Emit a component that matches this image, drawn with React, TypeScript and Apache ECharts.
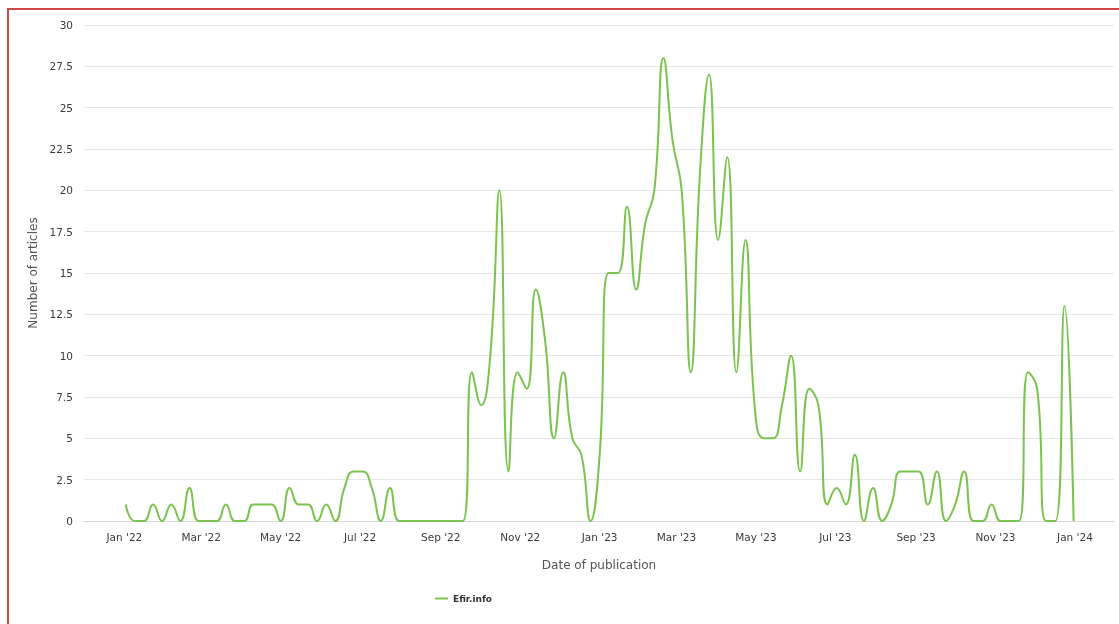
import React, { useEffect, useRef } from "react";
import * as echarts from "echarts";

// Weekly article counts (one value per week, first week starting 2022-01-02)
const firstWeek = "2022-01-02";
const articles = [
  1, 0, 0, 1, 0, 1, 0, 2, 0, 0,
  0, 1, 0, 0, 1, 1, 1, 0, 2, 1,
  1, 0, 1, 0, 2, 3, 3, 2, 0, 2,
  0, 0, 0, 0, 0, 0, 0, 0, 9, 7,
  10, 20, 3, 9, 8, 14, 11, 5, 9, 5,
  4, 0, 4, 15, 15, 19, 14, 18, 20, 28,
  23, 20, 9, 21, 27, 17, 22, 9, 17, 7,
  5, 5, 7, 10, 3, 8, 7, 1, 2, 1,
  4, 0, 2, 0, 1, 3, 3, 3, 1, 3,
  0, 1, 3, 0, 0, 1, 0, 0, 0, 9,
  8, 0, 0, 13, 0,
];
const seriesName = "Efir.info";
const xLabelDates = [
  "2022-01-01", "2022-03-01", "2022-05-01", "2022-07-01", "2022-09-01",
  "2022-11-01", "2023-01-01", "2023-03-01", "2023-05-01", "2023-07-01",
  "2023-09-01", "2023-11-01", "2024-01-01",
];
const monthNames = ["Jan", "Feb", "Mar", "Apr", "May", "Jun", "Jul", "Aug", "Sep", "Oct", "Nov", "Dec"];
const xMin = "2021-12-01";
const xMax = "2024-01-31";

const FONT = "DejaVu Sans";
const WEEK = 7 * 24 * 3600 * 1000;

export default function App() {
  const ref = useRef<HTMLDivElement>(null);
  useEffect(() => {
    const chart = echarts.init(ref.current!, null, { renderer: "svg" });
    const start = Date.parse(firstWeek);
    const data = articles.map((v, i) => [start + i * WEEK, v]);
    chart.setOption({
      animation: false,
      backgroundColor: "transparent",
      grid: { left: 84, right: 5, top: 25, bottom: 103 },
      legend: {
        data: [seriesName],
        left: 430,
        top: 589,
        icon: "rect",
        itemWidth: 13,
        itemHeight: 2,
        textStyle: { fontFamily: FONT, fontWeight: "bold", fontSize: 9, color: "#333" },
      },
      xAxis: {
        type: "value",
        min: Date.parse(xMin),
        max: Date.parse(xMax),
        name: "Date of publication",
        nameLocation: "middle",
        nameGap: 38,
        nameTextStyle: { fontFamily: FONT, fontSize: 12, color: "#555" },
        axisLine: { show: true, lineStyle: { color: "#d6d6d6", width: 1 } },
        axisTick: { show: false },
        splitLine: { show: false },
        axisLabel: {
          customValues: xLabelDates.map((d) => Date.parse(d)),
          formatter: (v: number) => {
            const d = new Date(v);
            return monthNames[d.getUTCMonth()] + " '" + String(d.getUTCFullYear()).slice(2);
          },
          fontFamily: FONT,
          fontSize: 10.5,
          color: "#3a3a3a",
          margin: 10,
        },
      },
      yAxis: {
        type: "value",
        min: 0,
        max: 30,
        interval: 2.5,
        name: "Number of articles",
        nameLocation: "middle",
        nameGap: 45,
        nameTextStyle: { fontFamily: FONT, fontSize: 12, color: "#555" },
        axisLine: { show: false },
        axisTick: { show: false },
        axisLabel: { fontFamily: FONT, fontSize: 10.5, color: "#3a3a3a", margin: 11 },
        splitLine: { show: true, lineStyle: { color: "#e6e6e6", width: 1 } },
      },
      series: [
        {
          name: seriesName,
          type: "line",
          data,
          smooth: 0.5,
          symbol: "none",
          lineStyle: { color: "#7ac34e", width: 2 },
          itemStyle: { color: "#7ac34e" },
        },
      ],
    });
    return () => chart.dispose();
  }, []);
  return (
    <>
      <div
        style={{
          position: "fixed",
          left: 7,
          top: 8,
          width: 1300,
          height: 800,
          borderTop: "2px solid #d04848",
          borderLeft: "2px solid #d04848",
          boxSizing: "border-box",
        }}
      />
      <div ref={ref} style={{ position: "fixed", left: 0, top: 0, width: 1119, height: 624 }} />
    </>
  );
}
